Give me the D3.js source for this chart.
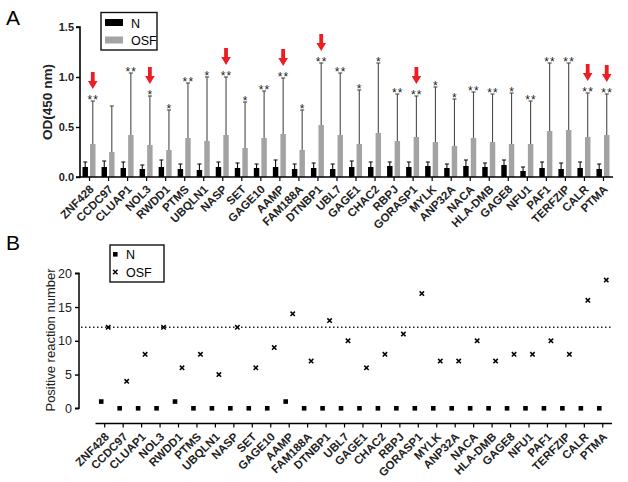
<!DOCTYPE html>
<html>
<head>
<meta charset="utf-8">
<script src="https://cdn.jsdelivr.net/npm/d3@7"></script>
<style>
  html, body { margin: 0; padding: 0; background: #fff; }
  svg { display: block; font-family: "Liberation Sans", Arial, sans-serif; }
</style>
</head>
<body>
<svg id="chart" width="628" height="482"></svg>
<script>
// ---------- data ----------
const genes = ["ZNF428","CCDC97","CLUAP1","NOL3","RWDD1","PTMS","UBQLN1","NASP","SET","GAGE10","AAMP","FAM188A","DTNBP1","UBL7","GAGE1","CHAC2","RBPJ","GORASP1","MYLK","ANP32A","NACA","HLA-DMB","GAGE8","NFU1","PAF1","TERFZIP","CALR","PTMA"];
// Panel A: OD(450 nm) means and upper error (mean + SD)
const odN      = [0.10,0.10,0.09,0.08,0.10,0.08,0.07,0.10,0.09,0.09,0.10,0.08,0.09,0.08,0.10,0.10,0.11,0.10,0.11,0.09,0.11,0.10,0.12,0.06,0.09,0.08,0.09,0.08];
const odNErr   = [0.15,0.16,0.15,0.12,0.17,0.13,0.13,0.15,0.14,0.13,0.17,0.13,0.14,0.13,0.16,0.15,0.15,0.15,0.15,0.13,0.17,0.14,0.17,0.10,0.15,0.14,0.15,0.13];
const odOSF    = [0.33,0.25,0.42,0.32,0.27,0.39,0.36,0.42,0.29,0.39,0.43,0.27,0.52,0.42,0.33,0.44,0.36,0.40,0.35,0.31,0.39,0.35,0.33,0.33,0.46,0.47,0.40,0.42];
const odOSFErr = [0.76,0.71,1.04,0.81,0.67,0.94,1.00,1.00,0.75,0.86,0.99,0.67,1.14,1.04,0.87,1.14,0.83,0.81,0.90,0.78,0.85,0.83,0.84,0.76,1.14,1.14,0.84,0.83];
const signif   = ["**","","**","*","*","**","*","**","*","**","**","*","**","**","*","*","**","**","*","*","**","**","*","**","**","**","**","**"];
const arrows   = ["ZNF428","NOL3","NASP","AAMP","DTNBP1","GORASP1","CALR","PTMA"];
const yTicksA  = [0, 0.5, 1.0, 1.5];
// Panel B: positive reaction numbers
const posN     = [1,0,0,0,1,0,0,0,0,0,1,0,0,0,0,0,0,0,0,0,0,0,0,0,0,0,0,0];
const posOSF   = [12,4,8,12,6,8,5,12,6,9,14,7,13,10,6,8,11,17,7,7,10,7,8,8,10,8,16,19];
const cutoff   = 12;
const yTicksB  = [0, 5, 10, 15, 20];
const seriesNames = ["N","OSF"];

// ---------- setup ----------
const svg = d3.select("#chart");
const FONT = "'Liberation Sans', Arial, sans-serif";
const GRAY = "#a3a3a3";
const RED = "#ee1d23";

// ================= Panel A =================
const xA = d3.scaleBand().domain(genes).range([80, 613]).paddingInner(0).paddingOuter(0);
const subA = d3.scaleBand().domain(seriesNames).range([2.5, 15.5]).paddingInner(0.28);
const yA = d3.scaleLinear().domain([0, 1.5]).range([177, 27]);

svg.append("text").attr("x", 6).attr("y", 25).attr("font-size", 21).text("A");

const gA = svg.append("g");
const rowsA = genes.map((g, i) => ({g, n: odN[i], ne: odNErr[i], o: odOSF[i], oe: odOSFErr[i], s: signif[i]}));

// error bars
rowsA.forEach(r => {
  [["N", r.n, r.ne, "#111"], ["OSF", r.o, r.oe, "#4a4a4a"]].forEach(([s, v, e, c]) => {
    const cx = xA(r.g) + subA(s) + subA.bandwidth() / 2;
    gA.append("line").attr("x1", cx).attr("x2", cx).attr("y1", yA(v)).attr("y2", yA(e))
      .attr("stroke", c).attr("stroke-width", 1.1);
    gA.append("line").attr("x1", cx - 2).attr("x2", cx + 2).attr("y1", yA(e)).attr("y2", yA(e))
      .attr("stroke", c).attr("stroke-width", 1.1);
  });
});
gA.selectAll("rect.n").data(rowsA).join("rect")
  .attr("x", d => xA(d.g) + subA("N")).attr("width", subA.bandwidth())
  .attr("y", d => yA(d.n)).attr("height", d => yA(0) - yA(d.n)).attr("fill", "#000");
gA.selectAll("rect.o").data(rowsA).join("rect")
  .attr("x", d => xA(d.g) + subA("OSF")).attr("width", subA.bandwidth())
  .attr("y", d => yA(d.o)).attr("height", d => yA(0) - yA(d.o)).attr("fill", GRAY);

// significance stars
gA.selectAll("text.star").data(rowsA.filter(d => d.s)).join("text")
  .attr("x", d => xA(d.g) + subA("OSF") + subA.bandwidth() / 2 + 0.5)
  .attr("y", d => yA(d.oe) + 2.5)
  .attr("text-anchor", "middle").attr("font-size", 12).attr("letter-spacing", 1.2)
  .attr("fill", "#222").text(d => d.s);

// red arrows
rowsA.filter(d => arrows.includes(d.g)).forEach(d => {
  const cx = xA(d.g) + subA("OSF") + subA.bandwidth() / 2;
  const bottom = yA(d.oe) - 12;
  const top = bottom - 17;
  const p = d3.path();
  p.moveTo(cx - 1.9, top); p.lineTo(cx + 1.9, top); p.lineTo(cx + 1.9, bottom - 8);
  p.lineTo(cx + 4.8, bottom - 8); p.lineTo(cx, bottom); p.lineTo(cx - 4.8, bottom - 8);
  p.lineTo(cx - 1.9, bottom - 8); p.closePath();
  gA.append("path").attr("d", p.toString()).attr("fill", RED);
});

// axes
const axA = svg.append("g").attr("transform", "translate(80,0)")
  .call(d3.axisLeft(yA).tickValues(yTicksA).tickFormat(d3.format(".1f")).tickSize(4).tickPadding(2));
axA.select(".domain").attr("stroke-width", 1.6).attr("d", `M-4,${yA(1.5)}H0V${yA(0)}H-4`);
axA.selectAll(".tick line").attr("stroke-width", 1.4);
axA.selectAll("text").attr("font-family", FONT).attr("font-size", 11).attr("font-weight", "bold").attr("fill", "#222");

const axAx = svg.append("g").attr("transform", `translate(0,${yA(0)})`)
  .call(d3.axisBottom(xA).tickSize(4).tickFormat(""));
axAx.select(".domain").attr("stroke-width", 1.6).attr("d", `M80,0H613`);
axAx.selectAll(".tick line").attr("stroke-width", 1.2);
svg.append("g").selectAll("text").data(genes).join("text")
  .attr("transform", g => `translate(${xA(g) + xA.bandwidth() / 2 + 5},${yA(0) + 13}) rotate(-45)`)
  .attr("text-anchor", "end").attr("font-size", 11.5).attr("font-weight", "bold").attr("fill", "#222")
  .text(g => g);

svg.append("text").attr("transform", `translate(52,102) rotate(-90)`)
  .attr("text-anchor", "middle").attr("font-size", 13.5).attr("font-weight", "bold").attr("fill", "#222")
  .text("OD(450 nm)");

// legend A
const lgA = svg.append("g");
lgA.append("rect").attr("x", 101).attr("y", 12.5).attr("width", 56).attr("height", 37.5)
  .attr("fill", "#fff").attr("stroke", "#111").attr("stroke-width", 1.4);
lgA.append("rect").attr("x", 105).attr("y", 19).attr("width", 18).attr("height", 7).attr("fill", "#000");
lgA.append("rect").attr("x", 105).attr("y", 36.5).attr("width", 18).attr("height", 7).attr("fill", GRAY);
lgA.append("text").attr("x", 131).attr("y", 27.5).attr("font-size", 12.5).text("N");
lgA.append("text").attr("x", 131).attr("y", 45).attr("font-size", 12.5).text("OSF");

// ================= Panel B =================
const xB = d3.scaleBand().domain(genes).range([95.5, 612]);
const offB = {N: -3.5, OSF: 3.5};
const yB = d3.scaleLinear().domain([0, 20]).range([408.3, 273.3]);

svg.append("text").attr("x", 6).attr("y", 250).attr("font-size", 21).text("B");

// cutoff dotted line
svg.append("line").attr("x1", 81).attr("x2", 612).attr("y1", yB(cutoff)).attr("y2", yB(cutoff))
  .attr("stroke", "#222").attr("stroke-width", 1.4).attr("stroke-dasharray", "1.5,2.5");

const rowsB = genes.map((g, i) => ({g, n: posN[i], o: posOSF[i]}));
svg.append("g").selectAll("rect").data(rowsB).join("rect")
  .attr("x", d => xB(d.g) + xB.bandwidth() / 2 + offB.N - 2.3)
  .attr("y", d => yB(d.n) - 2.3).attr("width", 4.6).attr("height", 4.6).attr("fill", "#000");
const cross = s => `M${-s},${-s}L${s},${s}M${-s},${s}L${s},${-s}`;
svg.append("g").selectAll("path").data(rowsB).join("path")
  .attr("transform", d => `translate(${xB(d.g) + xB.bandwidth() / 2 + offB.OSF},${yB(d.o)})`)
  .attr("d", cross(2.2)).attr("stroke", "#000").attr("stroke-width", 1.5).attr("fill", "none");

const axB = svg.append("g").attr("transform", "translate(79,0)")
  .call(d3.axisLeft(yB).tickValues(yTicksB).tickSize(4).tickPadding(3));
axB.select(".domain").attr("stroke-width", 1.5).attr("d", `M-4,${yB(20)}H0V${yB(0)}H-4`);
axB.selectAll(".tick line").attr("stroke-width", 1.4);
axB.selectAll("text").attr("font-family", FONT).attr("font-size", 12.5).attr("fill", "#222");

const axBx = svg.append("g").attr("transform", "translate(0,423.5)")
  .call(d3.axisBottom(xB).tickSize(4).tickFormat(""));
axBx.select(".domain").attr("stroke-width", 1.5).attr("d", `M95.5,0H612`);
axBx.selectAll(".tick line").attr("stroke-width", 1.2);
svg.append("g").selectAll("text").data(genes).join("text")
  .attr("transform", g => `translate(${xB(g) + xB.bandwidth() / 2 + 5},${423.5 + 14}) rotate(-45)`)
  .attr("text-anchor", "end").attr("font-size", 11.5).attr("font-weight", "bold").attr("fill", "#222")
  .text(g => g);

svg.append("text").attr("transform", `translate(55,340) rotate(-90)`)
  .attr("text-anchor", "middle").attr("font-size", 13).attr("fill", "#222")
  .text("Positive reaction number");

// legend B
const lgB = svg.append("g");
lgB.append("rect").attr("x", 110).attr("y", 245).attr("width", 54).attr("height", 37)
  .attr("fill", "#fff").attr("stroke", "#111").attr("stroke-width", 1.4);
lgB.append("rect").attr("x", 113).attr("y", 252).attr("width", 4.6).attr("height", 4.6).attr("fill", "#000");
lgB.append("path").attr("transform", "translate(115.3,272)").attr("d", cross(2.2))
  .attr("stroke", "#000").attr("stroke-width", 1.5);
lgB.append("text").attr("x", 126).attr("y", 259).attr("font-size", 12.5).text("N");
lgB.append("text").attr("x", 126).attr("y", 277).attr("font-size", 12.5).text("OSF");
</script>
</body>
</html>
